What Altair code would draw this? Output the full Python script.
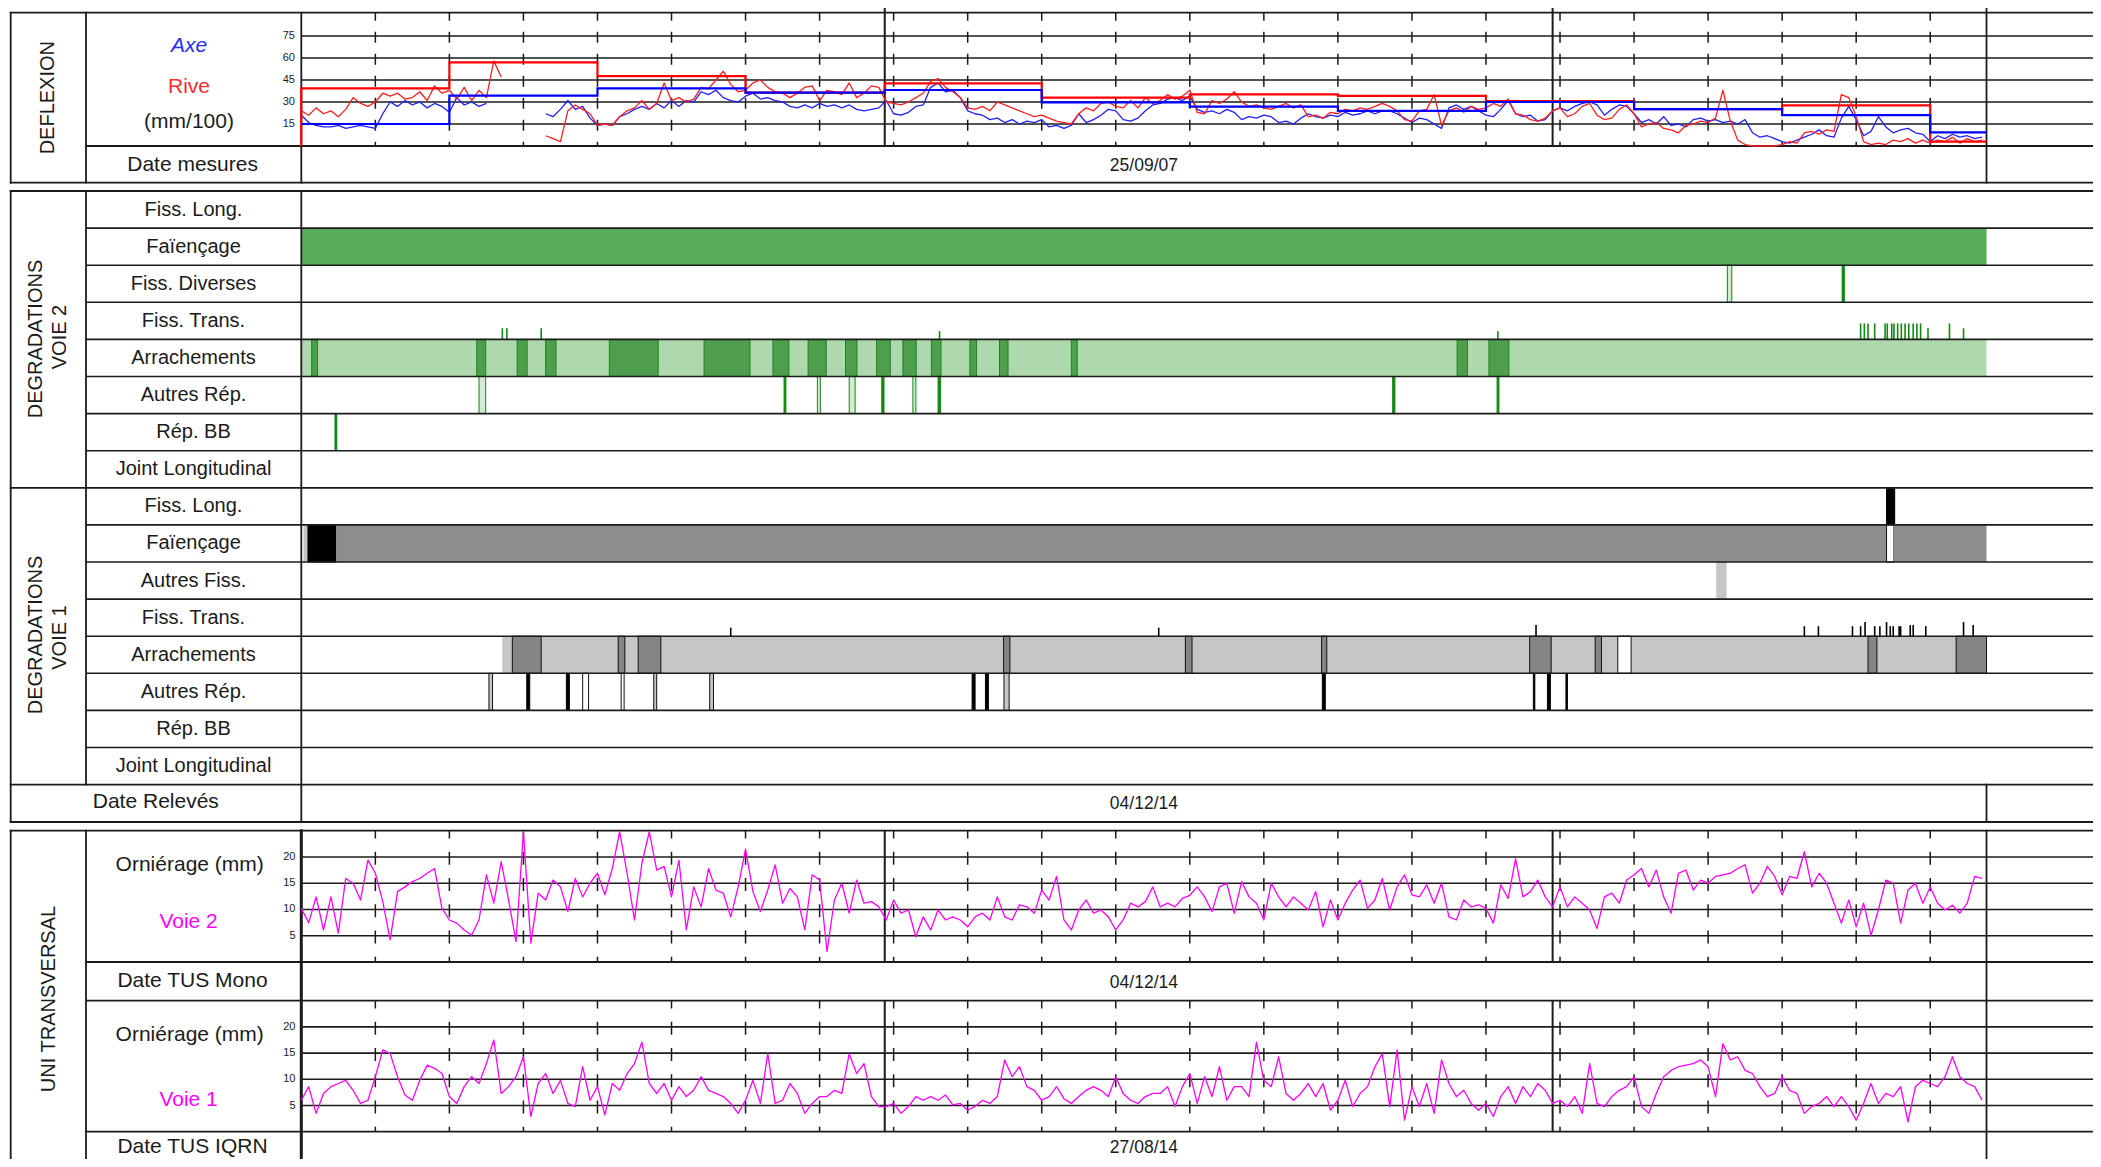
import altair as alt
import pandas as pd

W, H = 2085, 1151
FONT = "Liberation Sans"
INK = "#1b1b1b"

# ------------------------------------------------------------------ data
X_END = 2276          # abscissa (m) at the right end of the survey
STEP_M = 10           # sampling step of the measured series (m)
dash_ticks = [100, 200, 300, 400, 500, 600, 700, 800, 900, 1000, 1100,
              1200, 1300, 1400, 1500, 1600, 1700, 1800, 1900, 2000, 2100, 2200]
pr_ticks = [788, 1690]

N = None
axe = [21, 16, 14, 13, 13, 14, 12, 13, 14, 13, 12, 22, 30, 27, 31, 28, 30, 26, 29, 27, 23, 33, 28, 30, 27, 29,
       N, N, N, N, N, N, N,
       22, 20, 25, 31, 25, 27, 19, 14, 15, 14, 20, 22, 25, 27, 25, 29, 26, 31, 27, 31, 30,
       37, 35, 38, 33, 31, 30, 34, 36, 32, 33,
       31, 30, 27, 26, 28, 26, 29, 27, 28, 26,
       28, 25, 24, 25, 26, 31, 22, 21, 23, 27,
       28, 40, 43, 37, 38, 33, 24, 22, 21, 18,
       19, 16, 18, 15, 17, 16, 18, 13, 14, 12,
       14, 22, 16, 18, 21, 25, 24, 18, 17, 19,
       24, 28, 29, 32, 33, 31, 34, 25, 23, 24,
       22, 25, 23, 18, 20, 19, 21, 20, 16, 17,
       15, 19, 22, 20, 19, 21, 20, 23, 21, 22,
       24, 22, 24, 24, 22,
       19, 16, 19, 18, 15, 12, 26, 28, 25, 27,
       24, 21, 20, 25, 31, 22, 20, 21, 17, 18,
       24, 26, 24, 27, 29, 30, 28, 21, 25, 28,
       27, 22, 16, 18, 15, 20, 14, 15, 13, 18,
       19, 17, 18, 16, 17, 15, 18, 9, 6, 7,
       5, 3, 2, 4, 6, 8, 11, 7, 6, 19,
       27, 18, 7, 10, 20, 13, 9, 11, 12, 9,
       8, 3, 7, 5, 8, 6, 7, 5, 6]
rive = [24, 21, 26, 22, 24, 20, 25, 33, 29, 27,
        30, 36, 34, 36, 32, 33, 37, 31, 41, 36,
        38, 32, 40, 31, 38, 33, 58, 47,
        N, N, N, N, N,
        7, 5, 3, 24, 28, 25, 22, 14, 15, 14, 20, 24, 26, 31, 25, 29, 43, 31, 33, 30, 32,
        40, 39, 45, 51, 42, 37, 38, 43, 45, 40,
        37, 36, 33, 36, 40, 41, 31, 38, 37, 35,
        43, 33, 36, 41, 40, 30, 29, 28, 30, 33,
        36, 44, 46, 40, 37, 33, 26, 25, 27, 24,
        30, 28, 26, 24, 22, 20, 21, 19, 17, 16,
        15, 22, 26, 24, 29, 30, 27, 26, 31, 26,
        33, 29, 31, 35, 32, 34, 38, 23, 22, 31,
        29, 32, 37, 30, 27, 28, 26, 25, 27, 29,
        26, 28, 20, 21, 19, 23, 22, 25, 24, 26,
        25, 27, 29, 27, 24,
        18, 17, 24, 25, 35, 14, 24, 26, 23, 27,
        25, 26, 29, 27, 32, 22, 21, 18, 17, 19,
        24, 26, 20, 22, 27, 29, 21, 18, 19, 25,
        28, 22, 13, 15, 16, 12, 11, 9, 14, 15,
        17, 16, 19, 38, 17, 4, 1, 0, 0, 0,
        0, 1, 3, 2, 9, 10, 8, 11, 10, 35,
        33, 20, 3, 1, 2, 1, 4, 3, 5, 2,
        4, 2, 4, 3, 6, 2, 5, 3, 4]
zone_bounds = [0, 200, 400, 600, 788, 1000, 1200, 1400, 1600, 1800, 2000, 2200, 2276]
axe_zone = [15, 34.3, 39.3, 36.4, 38.2, 29.8, 26.8, 24, 30, 25.2, 21.1, 9.3]
rive_zone = [39.3, 57, 47.7, 36.4, 42.7, 33, 35.2, 34.2, 30.6, 25.2, 27.7, 3]
defl_grid = [15, 30, 45, 60, 75]

orn_v2 = [10.2, 7.5, 12.4, 6.1, 12.4, 5.5, 15.9, 15, 11.8, 19.4,
          16.9, 11.5, 4.2, 13.4, 14.3, 15.3, 15.9, 16.9, 17.8, 10.2,
          8, 7.4, 6.1, 5.1, 8, 16.6, 11.2, 19.1, 11.8, 3.9,
          24.8, 3.6, 13.1, 11.8, 15.6, 14.3, 9.6, 15.9, 12.4, 15,
          16.9, 12.8, 17.8, 24.8, 16.9, 8, 18.8, 24.8, 17.5, 18.2,
          12.4, 19.4, 6.1, 14.3, 10.5, 17.8, 13.7, 13.1, 8.6, 14.3,
          21.5, 13.4, 9.6, 13.7, 18.5, 11.2, 14, 12.4, 6.1, 16.6,
          15.6, 2, 11.8, 15, 9.3, 15.6, 11.2, 11.5, 10.5, 8,
          11.8, 9.3, 9.9, 4.8, 8.6, 6.1, 9.9, 8, 8.6, 8,
          6.7, 8.6, 9.3, 8, 12.4, 8.6, 8, 10.9, 10.5, 9.3,
          13.7, 11.8, 16.3, 8, 6.1, 9.9, 11.8, 9.3, 9.9, 8.6,
          6.1, 8, 11.2, 10.5, 11.5, 14.3, 10.5, 11.2, 10.5, 12.1,
          12.7, 14.3, 12.4, 9.6, 14.3, 15, 9.3, 15.3, 12.4, 11.2,
          8, 15, 12.4, 10.5, 12.4, 11.2, 9.9, 13.4, 6.7, 11.8,
          8, 11.2, 13.7, 15.6, 10.2, 11.8, 15.9, 9.9, 14.3, 16.6,
          12.8, 12.4, 14.7, 11.2, 15, 8.6, 8, 11.8, 10.5, 10.9,
          10.2, 7.4, 14.7, 12.1, 19.7, 12.4, 13.4, 15.6, 12.4, 10.5,
          14.3, 10.5, 12.4, 11.2, 9.9, 6.4, 12.4, 13.1, 11.2, 15.6,
          16.6, 17.8, 14.3, 17.5, 12.4, 9.3, 16.9, 17.5, 13.7, 15.6,
          15, 16.3, 16.6, 16.9, 17.8, 18.5, 13.1, 15, 18.2, 16.3,
          12.8, 16.3, 15.9, 21, 14.3, 16.9, 15, 11.2, 7.4, 11.8,
          6.7, 11.2, 5.1, 9.9, 15.6, 15, 7.4, 13.7, 15, 11.2,
          14.3, 11.2, 9.9, 10.8, 9.3, 11.2, 16.3, 15.9]
orn_v1 = [6, 8.6, 3.5, 7.3, 8.6, 9.2, 9.8, 7.9, 5.4, 6,
          10.5, 15.6, 14.9, 10.5, 7, 6, 9.8, 12.7, 12.1, 11.1,
          6.7, 5.4, 8.6, 10.5, 9.2, 13, 17.5, 7.3, 8.6, 10.5,
          14.3, 2.9, 9.2, 11.1, 7.3, 9.8, 5.4, 4.8, 12.4, 6,
          8.6, 3.2, 9.2, 7.9, 11.1, 13, 17.1, 9.2, 7.3, 9.2,
          6, 8.6, 6.7, 7.9, 10.5, 7.9, 7.3, 6.7, 5.4, 3.5,
          6, 9.8, 5.4, 14.9, 5.4, 6, 9.2, 7.3, 3.5, 5.4,
          6.7, 6.7, 7.9, 7.3, 14.9, 11.1, 13, 6.7, 4.8, 4.8,
          5.4, 3.5, 4.8, 6.7, 6, 6.7, 6, 7, 5.1, 5.4,
          4.1, 4.8, 6, 5.4, 6.7, 13.7, 10.5, 12.4, 8.6, 7.9,
          6, 6.7, 8.6, 6.3, 5.4, 6.7, 7.9, 8.6, 7.9, 6.7,
          10.5, 7.3, 6, 5.4, 6.7, 7.3, 7.3, 8.6, 4.8, 8.6,
          11.1, 5.4, 10.5, 6.7, 12.4, 6, 8.6, 8.6, 6.7, 17.1,
          9.8, 8.6, 14.3, 7.3, 6, 7.3, 9.2, 6.7, 9.2, 4.1,
          6, 9.8, 4.8, 7.3, 8.6, 12.4, 14.9, 4.8, 15.6, 2.2,
          8.6, 4.8, 9.2, 3.5, 13.7, 9.2, 6.7, 7.9, 5.4, 4.1,
          5.4, 2.9, 6.7, 8.6, 5.4, 8.6, 6.7, 9.2, 7.9, 5.4,
          6, 4.8, 6.7, 3.5, 13, 5.4, 4.8, 6.7, 7.9, 8.6,
          10.5, 4.8, 3.5, 7.3, 10.5, 11.7, 12.4, 12.7, 13, 13.7,
          12.4, 6.7, 16.8, 13.7, 14.3, 11.7, 11.1, 8.6, 6.7, 7.3,
          10.5, 7.9, 7.3, 3.5, 4.8, 5.4, 6.7, 4.8, 6.7, 4.8,
          2.2, 5.4, 9.2, 5.4, 7.3, 6.7, 8.6, 1.9, 8.6, 9.8,
          9.2, 8.6, 10.5, 14.3, 10.5, 9.2, 8.6, 6]
orn_grid = [5, 10, 15, 20]

rows_v2 = ["Fiss. Long.", "Faïençage", "Fiss. Diverses", "Fiss. Trans.",
           "Arrachements", "Autres Rép.", "Rép. BB", "Joint Longitudinal"]
rows_v1 = ["Fiss. Long.", "Faïençage", "Autres Fiss.", "Fiss. Trans.",
           "Arrachements", "Autres Rép.", "Rép. BB", "Joint Longitudinal"]

# degradations: row index (0-7 voie 2, 8-15 voie 1), start (m), end (m), kind
deg = [
    (1, 0, 2276, "fai_v2"), (4, 0, 2276, "arr_v2"),
    (4, 14, 22, "dense_v2"), (4, 237, 249, "dense_v2"), (4, 291.5, 305, "dense_v2"),
    (4, 330, 344, "dense_v2"), (4, 416, 482, "dense_v2"), (4, 544, 606, "dense_v2"),
    (4, 637, 658.5, "dense_v2"), (4, 684.5, 709, "dense_v2"), (4, 735, 750.5, "dense_v2"),
    (4, 777, 795.5, "dense_v2"), (4, 812.5, 830.5, "dense_v2"), (4, 851, 864, "dense_v2"),
    (4, 903, 912, "dense_v2"), (4, 943, 954.5, "dense_v2"), (4, 1040, 1048, "dense_v2"),
    (4, 1561, 1575, "dense_v2"), (4, 1604, 1631, "dense_v2"),
    (2, 1926, 1932, "dbl_v2"), (2, 2081, 2084, "line_v2"),
    (5, 240, 249, "dbl_v2"), (5, 652, 654.5, "line_v2"), (5, 697, 701, "dbl_v2"),
    (5, 740, 748, "dbl_v2"), (5, 784, 787, "line_v2"), (5, 826, 830, "dbl_v2"),
    (5, 860, 863.5, "line_v2"), (5, 1474, 1477, "line_v2"), (5, 1615, 1617.5, "line_v2"),
    (6, 45.5, 48, "line_v2"),
    (8, 2141, 2152, "solid_v1"),
    (9, 3, 9, "arr_v1"), (9, 9, 47, "solid_v1"), (9, 47, 2141, "fai_v1"),
    (9, 2141, 2151, "box_v1"), (9, 2151, 2276, "fai_v1"),
    (10, 1911, 1925, "arr_v1"),
    (12, 271.5, 1778, "arr_v1"), (12, 1796, 2276, "arr_v1"), (12, 1778, 1796, "box_v1"),
    (12, 285, 324, "dense_v1"), (12, 428, 437, "dense_v1"), (12, 455, 485.5, "dense_v1"),
    (12, 948.5, 957, "dense_v1"), (12, 1194, 1203, "dense_v1"), (12, 1378, 1385, "dense_v1"),
    (12, 1659, 1688, "dense_v1"), (12, 1747.5, 1756, "dense_v1"), (12, 2116, 2128, "dense_v1"),
    (12, 2235, 2276, "dense_v1"),
    (13, 253.4, 258.3, "hbox_v1"), (13, 304.5, 308.5, "line_v1"), (13, 358, 362, "line_v1"),
    (13, 380, 388, "box_v1"), (13, 432, 436, "box_v1"), (13, 476, 480, "hbox_v1"),
    (13, 551.6, 556.7, "hbox_v1"), (13, 906, 910, "line_v1"), (13, 924, 928, "line_v1"),
    (13, 949, 956, "hbox_v1"), (13, 1379, 1383, "line_v1"), (13, 1664, 1666, "line_v1"),
    (13, 1683, 1687, "line_v1"), (13, 1708, 1710, "line_v1"),
]
deg_row = [d[0] for d in deg]
deg_start = [d[1] for d in deg]
deg_end = [d[2] for d in deg]
deg_kind = [d[3] for d in deg]

# transverse cracks: row, position (m), tick height (fraction of row)
tick_row = [3] * 23 + [11] * 20
tick_pos = [271.5, 277.6, 324, 862, 1616, 2106, 2111, 2116, 2125, 2139, 2142, 2148,
            2151, 2156, 2161, 2166, 2171, 2177, 2182, 2187, 2197, 2226, 2245,
            580, 1158, 1667.6, 2030, 2049, 2095, 2106, 2112, 2125, 2132, 2141, 2146,
            2150, 2158, 2160, 2173, 2177, 2194, 2245, 2258]
tick_h = [0.3, 0.3, 0.3, 0.22, 0.22, 0.43, 0.43, 0.43, 0.43, 0.43, 0.43, 0.43,
          0.43, 0.43, 0.43, 0.43, 0.43, 0.43, 0.43, 0.43, 0.3, 0.43, 0.3,
          0.23, 0.23, 0.3, 0.27, 0.27, 0.27, 0.27, 0.38, 0.27, 0.27, 0.38, 0.27,
          0.27, 0.27, 0.27, 0.3, 0.3, 0.27, 0.38, 0.3]

assert len(axe) == 228 and len(rive) == 228, (len(axe), len(rive))
assert len(orn_v2) == 228 and len(orn_v1) == 228, (len(orn_v2), len(orn_v1))
assert len(tick_row) == len(tick_pos) == len(tick_h)

KINDS = ["fai_v2", "arr_v2", "dense_v2", "line_v2", "dbl_v2",
         "fai_v1", "arr_v1", "dense_v1", "solid_v1", "box_v1", "hbox_v1", "line_v1"]
FILLS = ["#58ab58", "#aed9ae", "#4e9e4e", "#118811", "#d3ebd3",
         "#8e8e8e", "#c6c6c6", "#858585", "#000000", "#ffffff", "#c6c6c6", "#000000"]
STROKES = ["transparent", "transparent", "#1b861b", "#118811", "#118811",
           "transparent", "transparent", "#111111", "#000000", "#111111", "#111111", "#000000"]

# ------------------------------------------------------------------ layout (pixels)
XL, XC1, XC2, XE, XR = 2.7, 78.0, 293.3, 1978.5, float(W)
T1, B1C, B1 = 4.7, 138.0, 174.7
T2, B2R, B2 = 183.0, 776.6, 814.0
T3, B3A, B3B, B3C = 822.7, 954.0, 992.7, 1123.7
XMID = (XC2 + XE) / 2

X_SC = alt.Scale(domain=[0, X_END], range=[XC2, XE], nice=False, zero=False)
DEFL_SC = alt.Scale(domain=[0, 90.9], range=[B1C, T1], nice=False, zero=False)
ORN2_SC = alt.Scale(domain=[0, 25], range=[B3A, T3], nice=False, zero=False)
ORN1_SC = alt.Scale(domain=[0, 25], range=[B3C, B3B], nice=False, zero=False)
DEG_SC = alt.Scale(domain=[0, 16], range=[T2, B2R], nice=False, zero=False)


def px_rules(segs, color=INK):
    df = pd.DataFrame(segs, columns=["x", "x2", "y", "y2", "w"])
    return alt.Chart(df).mark_rule(color=color, strokeCap="square").encode(
        x=alt.X("x:Q", scale=None, axis=None), x2="x2:Q",
        y=alt.Y("y:Q", scale=None, axis=None), y2="y2:Q",
        strokeWidth=alt.StrokeWidth("w:Q", scale=None, legend=None))


frame = px_rules([
    (XL, XR, T1, T1, 1.8), (XC1, XR, B1C, B1C, 1.8), (XL, XR, B1, B1, 1.8),
    (XL, XL, T1, B1, 1.8), (XC1, XC1, T1, B1, 1.8), (XC2, XC2, T1, B1, 1.8),
    (XE, XE, 0, B1, 1.8),
    (XL, XR, T2, T2, 1.8), (XL, XR, (T2 + B2R) / 2, (T2 + B2R) / 2, 1.8),
    (XL, XR, B2R, B2R, 1.8), (XL, XR, B2, B2, 1.8),
    (XL, XL, T2, B2, 1.8), (XC1, XC1, T2, B2R, 1.8), (XC2, XC2, T2, B2, 1.8),
    (XE, XE, B2R, B2, 1.8),
    (XL, XR, T3, T3, 1.8), (XC1, XR, B3A, B3A, 1.8), (XC1, XR, B3B, B3B, 1.8),
    (XC1, XR, B3C, B3C, 1.8),
    (XL, XL, T3, H, 1.8), (XC1, XC1, T3, H, 1.8), (XC2, XC2, T3, H, 3.0),
    (XE, XE, T3, H, 1.8),
])

row_lines = alt.Chart(pd.DataFrame({"k": [k for k in range(1, 16) if k != 8]})).mark_rule(
    color=INK, strokeWidth=1.6).encode(
    y=alt.Y("k:Q", scale=DEG_SC, axis=None), x=alt.value(XC1), x2=alt.value(XR))


def grid(values, sc):
    return alt.Chart(pd.DataFrame({"g": values})).mark_rule(color=INK, strokeWidth=1.6).encode(
        y=alt.Y("g:Q", scale=sc, axis=None), x=alt.value(XC2), x2=alt.value(XR))


def grid_labels(values, sc, x):
    return alt.Chart(pd.DataFrame({"g": values})).mark_text(
        font=FONT, fontSize=11, color=INK, align="right", baseline="middle").encode(
        y=alt.Y("g:Q", scale=sc, axis=None), x=alt.value(x), text=alt.Text("g:Q"))


def dashes(y0, y1, dash, offset):
    return alt.Chart(pd.DataFrame({"t": dash_ticks})).mark_rule(
        color=INK, strokeWidth=1.5, strokeDash=dash, strokeDashOffset=offset).encode(
        x=alt.X("t:Q", scale=X_SC, axis=None), y=alt.value(y0), y2=alt.value(y1))


def pr_lines(y0, y1):
    return alt.Chart(pd.DataFrame({"t": pr_ticks})).mark_rule(color=INK, strokeWidth=2).encode(
        x=alt.X("t:Q", scale=X_SC, axis=None), y=alt.value(y0), y2=alt.value(y1))


def series_df(vals, name):
    recs, seg, gap = [], 0, False
    for i, v in enumerate(vals):
        if v is None:
            gap = True
            continue
        if gap:
            seg += 1
            gap = False
        recs.append({"m": i * STEP_M, "v": v, "s": name, "seg": f"{name}{seg}"})
    return pd.DataFrame(recs)


def step_df(zvals, from_zero):
    recs, o = [], 0
    if from_zero:
        recs.append({"m": zone_bounds[0], "v": 0, "o": o})
        o += 1
    for b, v in zip(zone_bounds[:-1], zvals):
        recs.append({"m": b, "v": v, "o": o})
        o += 1
    recs.append({"m": zone_bounds[-1], "v": zvals[-1], "o": o})
    return pd.DataFrame(recs)


def noisy(df, sc, color):
    return alt.Chart(df).mark_line(strokeWidth=1.3, color=color, strokeJoin="round").encode(
        x=alt.X("m:Q", scale=X_SC, axis=None), y=alt.Y("v:Q", scale=sc, axis=None),
        detail="seg:N")


def step(df, color):
    return alt.Chart(df).mark_line(strokeWidth=2.2, color=color, interpolate="step-after").encode(
        x=alt.X("m:Q", scale=X_SC, axis=None), y=alt.Y("v:Q", scale=DEFL_SC, axis=None),
        order="o:Q")


deg_df = pd.DataFrame({"r": deg_row, "a": deg_start, "b": deg_end, "k": deg_kind})
deg_df["r1"] = deg_df["r"] + 1
rects = alt.Chart(deg_df).mark_rect(strokeWidth=1).encode(
    x=alt.X("a:Q", scale=X_SC, axis=None), x2="b:Q",
    y=alt.Y("r:Q", scale=DEG_SC, axis=None), y2="r1:Q",
    fill=alt.Fill("k:N", scale=alt.Scale(domain=KINDS, range=FILLS), legend=None),
    stroke=alt.Stroke("k:N", scale=alt.Scale(domain=KINDS, range=STROKES), legend=None))

tk = pd.DataFrame({"r": tick_row, "p": tick_pos, "h": tick_h})
tk["y0"] = tk["r"] + 1
tk["y1"] = tk["r"] + 1 - tk["h"]
tk["c"] = ["v2" if r < 8 else "v1" for r in tk["r"]]
ticks = alt.Chart(tk).mark_rule(strokeWidth=1.6).encode(
    x=alt.X("p:Q", scale=X_SC, axis=None),
    y=alt.Y("y0:Q", scale=DEG_SC, axis=None), y2="y1:Q",
    color=alt.Color("c:N", scale=alt.Scale(domain=["v2", "v1"], range=["#118811", "#000000"]),
                    legend=None))

row_labels = alt.Chart(pd.DataFrame({"t": rows_v2 + rows_v1,
                                     "yy": [i + 0.5 for i in range(16)]})).mark_text(
    font=FONT, fontSize=20, color=INK, baseline="middle").encode(
    y=alt.Y("yy:Q", scale=DEG_SC, axis=None), x=alt.value(185.5), text="t:N")


def px_text(items, **kw):
    df = pd.DataFrame(items, columns=["t", "x", "y"])
    props = dict(font=FONT, fontSize=20.5, color=INK, baseline="middle")
    props.update(kw)
    return alt.Chart(df).mark_text(**props).encode(
        x=alt.X("x:Q", scale=None, axis=None), y=alt.Y("y:Q", scale=None, axis=None), text="t:N")


labels = px_text([
    ("(mm/100)", 181, 114), ("Date mesures", 184.6, 157),
    ("Date Relevés", 147.8, 793.7),
    ("Orniérage (mm)", 181.7, 857), ("Date TUS Mono", 184.5, 972.7),
    ("Orniérage (mm)", 181.7, 1027), ("Date TUS IQRN", 184.5, 1139),
], fontSize=21)
rotated = px_text([
    ("DEFLEXION", 40, 89.7), ("DEGRADATIONS", 27.7, 331), ("VOIE 2", 52.3, 329),
    ("DEGRADATIONS", 27.7, 627), ("VOIE 1", 52.3, 629.5), ("UNI TRANSVERSAL", 41, 991),
], angle=270, fontSize=20)
axe_lab = px_text([("Axe", 181, 37.5)], color="#2a2aff", fontStyle="italic", fontSize=21)
rive_lab = px_text([("Rive", 181, 79.3)], color="#ff2a2a", fontSize=21)
voie_lab = px_text([("Voie 2", 180.6, 913.7), ("Voie 1", 180.6, 1092)], color="#ff00ff", fontSize=21)
dates = px_text([("25/09/07", XMID, 157.7), ("04/12/14", XMID, 796),
                 ("04/12/14", XMID, 975.3), ("27/08/14", XMID, 1140)], fontSize=17.5)

chart = alt.layer(
    rects, ticks,
    grid(defl_grid, DEFL_SC), grid(orn_grid, ORN2_SC), grid(orn_grid, ORN1_SC),
    row_lines, frame,
    dashes(T1, B1C, [11, 11], 3), dashes(T3, B3A, [13, 13.25], 5.3), dashes(B3B, B3C, [13, 13.25], 5.3),
    pr_lines(0, B1C), pr_lines(T3, B3A), pr_lines(B3B, B3C),
    noisy(series_df(axe, "axe"), DEFL_SC, "#1f1fff"),
    noisy(series_df(rive, "rive"), DEFL_SC, "#ff1f1f"),
    step(step_df(rive_zone, True), "#ff0000"),
    step(step_df(axe_zone, False), "#0000ff"),
    noisy(series_df(orn_v2, "v2"), ORN2_SC, "#ff00ff"),
    noisy(series_df(orn_v1, "v1"), ORN1_SC, "#ff00ff"),
    grid_labels(defl_grid, DEFL_SC, 287), grid_labels(orn_grid, ORN2_SC, 287.5),
    grid_labels(orn_grid, ORN1_SC, 287.5),
    row_labels, labels, rotated, axe_lab, rive_lab, voie_lab, dates,
).resolve_scale(x="independent", y="independent").properties(
    width=W, height=H, padding=0, autosize=alt.AutoSizeParams(type="none")
).configure_view(stroke=None)

chart.save("out.html", embed_options={"renderer": "svg", "actions": False})
